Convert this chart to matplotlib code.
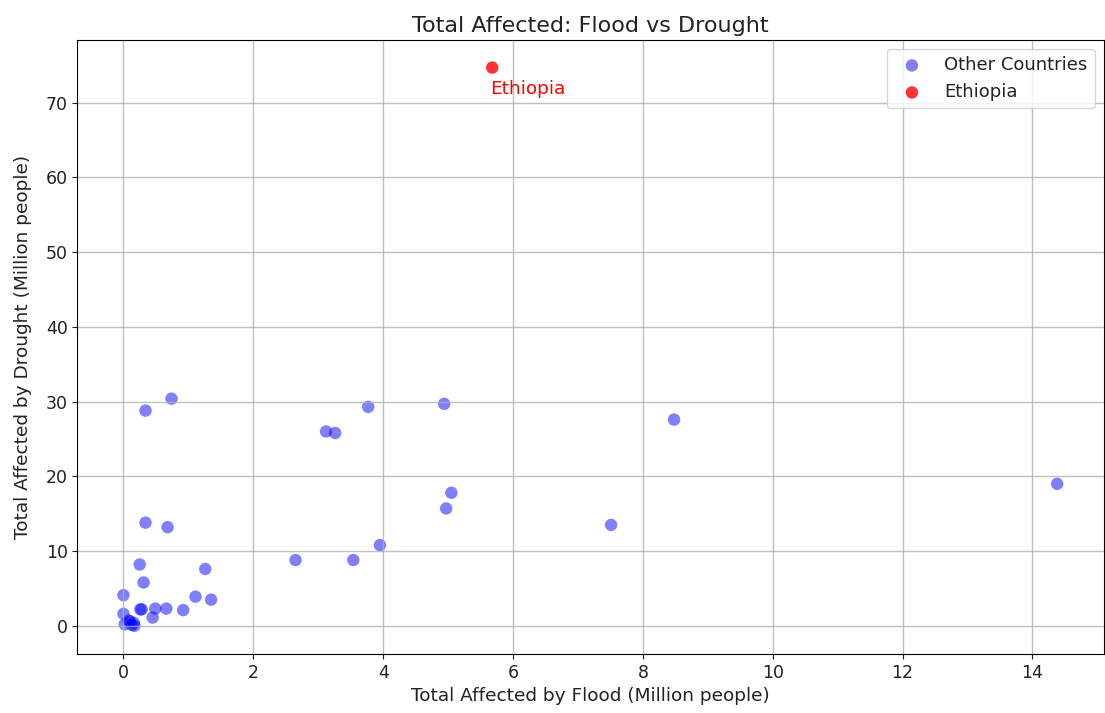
import numpy as np
import matplotlib
matplotlib.use("Agg")
import matplotlib.pyplot as plt

# Total affected (million people), other countries
flood_other = [0.74, 0.34, 3.77, 4.94, 3.12, 3.26, 8.48, 14.38, 5.05, 4.97,
               7.51, 0.34, 0.68, 3.95, 2.65, 3.54, 0.25, 1.26, 0.31, 0.0,
               1.11, 1.35, 0.0, 0.26, 0.28, 0.49, 0.66, 0.92, 0.45, 0.08,
               0.16, 0.02, 0.17, 0.10, 0.13]
drought_other = [30.4, 28.8, 29.3, 29.7, 26.0, 25.8, 27.6, 19.0, 17.8, 15.7,
                 13.5, 13.8, 13.2, 10.8, 8.8, 8.8, 8.2, 7.6, 5.8, 4.1,
                 3.9, 3.5, 1.6, 2.2, 2.2, 2.3, 2.3, 2.1, 1.1, 0.7,
                 0.4, 0.2, 0.0, 0.6, 0.1]

eth_flood = 5.68
eth_drought = 74.7

fig = plt.figure(figsize=(11.05, 7.13), dpi=100)
ax = fig.add_axes([0.07, 0.083, 0.929, 0.861])

ax.scatter(flood_other, drought_other, color="blue", alpha=0.5, s=80,
           edgecolors="none", label="Other Countries")
ax.scatter([eth_flood], [eth_drought], color="red", alpha=0.8, s=80,
           edgecolors="none", label="Ethiopia")
ax.text(eth_flood - 0.03, eth_drought - 3.6, "Ethiopia", color="red",
        fontsize=13.3)

ax.set_xlim(-0.71, 15.1)
ax.set_ylim(-3.75, 78.4)
ax.set_xticks(np.arange(0, 15, 2))
ax.set_yticks(np.arange(0, 71, 10))
ax.tick_params(labelsize=12.5, colors="#222222")
ax.grid(True, color="#b0b0b0", linewidth=1.0, alpha=0.8)

ax.set_title("Total Affected: Flood vs Drought", fontsize=16, color="#222222")
ax.set_xlabel("Total Affected by Flood (Million people)", fontsize=13.3,
              color="#222222")
ax.set_ylabel("Total Affected by Drought (Million people)", fontsize=13.3,
              color="#222222", labelpad=10)
ax.legend(loc="upper right", fontsize=13, labelcolor="#222222")

fig.savefig("out.png", dpi=100)
